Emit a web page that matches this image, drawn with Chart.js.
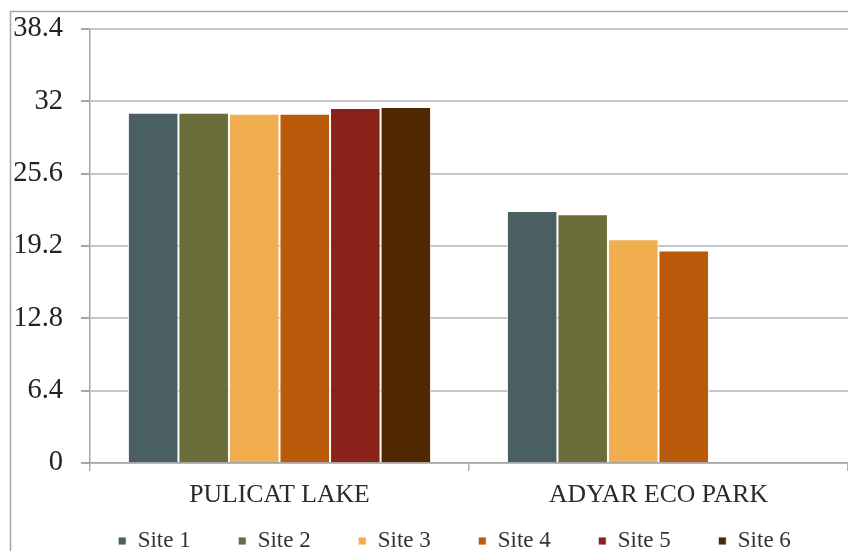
<!DOCTYPE html>
<html>
<head>
<meta charset="utf-8">
<script src="https://cdn.jsdelivr.net/npm/chart.js@4/dist/chart.umd.min.js"></script>
<style>
  html, body { margin: 0; padding: 0; background: #ffffff; }
  #wrap { position: relative; width: 848px; height: 551px; }
</style>
</head>
<body>
<div id="wrap"><canvas id="chart" width="848" height="551"></canvas></div>
<script>
// Locations sampled
const locations = ['PULICAT LAKE', 'ADYAR ECO PARK'];

// Measured value per site at each location (Adyar has only four sites)
const site1 = [31.0, 22.3];
const site2 = [31.0, 22.0];
const site3 = [30.9, 19.8];
const site4 = [30.9, 18.8];
const site5 = [31.4, null];
const site6 = [31.5, null];

const siteNames = ['Site 1', 'Site 2', 'Site 3', 'Site 4', 'Site 5', 'Site 6'];
const siteColors = ['#4a5f62', '#6b6e3a', '#f0ae4e', '#bb5a0a', '#8a221a', '#4f2700'];

// Y axis tick values
const yTicks = [0, 6.4, 12.8, 19.2, 25.6, 32, 38.4];

const seriesValues = [site1, site2, site3, site4, site5, site6];

const serif = "'Liberation Serif', 'Times New Roman', serif";

// Outer frame along the left and top edges
const framePlugin = {
  id: 'frame',
  beforeDraw(chart) {
    const ctx = chart.ctx;
    ctx.save();
    ctx.strokeStyle = '#a6a6a6';
    ctx.lineWidth = 1.5;
    ctx.beginPath();
    ctx.moveTo(10.5, chart.height);
    ctx.lineTo(10.5, 11.5);
    ctx.lineTo(chart.width, 11.5);
    ctx.stroke();
    ctx.restore();
  }
};

// Let the category labels use the space under the axis, and nudge the legend row right
const placementPlugin = {
  id: 'placement',
  afterLayout(chart) {
    const xs = chart.scales.x;
    xs.bottom = chart.height;
    const lg = chart.legend;
    if (lg) {
      lg.left += 30.5;
      lg.right += 30.5;
    }
  }
};

new Chart(document.getElementById('chart'), {
  type: 'bar',
  data: {
    labels: locations,
    datasets: seriesValues.map((vals, i) => ({
      label: siteNames[i],
      data: vals,
      backgroundColor: siteColors[i],
      borderColor: 'rgba(255,255,255,0.85)',
      borderWidth: 1,
      categoryPercentage: 0.8,
      barPercentage: 1.0
    }))
  },
  options: {
    responsive: false,
    animation: false,
    layout: { padding: { left: 0, top: 29, right: 0, bottom: -11.5 } },
    plugins: {
      tooltip: { enabled: false },
      legend: {
        position: 'bottom',
        labels: {
          boxWidth: 8,
          boxHeight: 8,
          padding: 47.5,
          color: '#333333',
          font: { family: serif, size: 23 }
        }
      }
    },
    scales: {
      x: {
        grid: {
          offset: true,
          drawOnChartArea: false,
          tickLength: 8,
          color: '#b0b0b0',
          lineWidth: 1.5
        },
        border: { color: '#a6a6a6', width: 1.5 },
        ticks: {
          color: '#2a2a2a',
          padding: 9,
          font: { family: serif, size: 25.7 }
        },
        afterFit(scale) { scale.height = 19; }
      },
      y: {
        min: 0,
        max: 38.4,
        afterBuildTicks(scale) {
          scale.ticks = yTicks.map(v => ({ value: v }));
        },
        grid: {
          color: '#c6c6c6',
          lineWidth: 2,
          tickLength: 9,
          tickColor: '#a6a6a6'
        },
        border: { color: '#a6a6a6', width: 1.5 },
        ticks: {
          color: '#222222',
          padding: 18,
          font: { family: serif, size: 28.5 },
          callback: (v) => String(v)
        },
        afterFit(scale) {
          scale.width = 90;
          scale.paddingTop = 0;
          scale.paddingBottom = 0;
        }
      }
    }
  },
  plugins: [framePlugin, placementPlugin]
});
</script>
</body>
</html>
